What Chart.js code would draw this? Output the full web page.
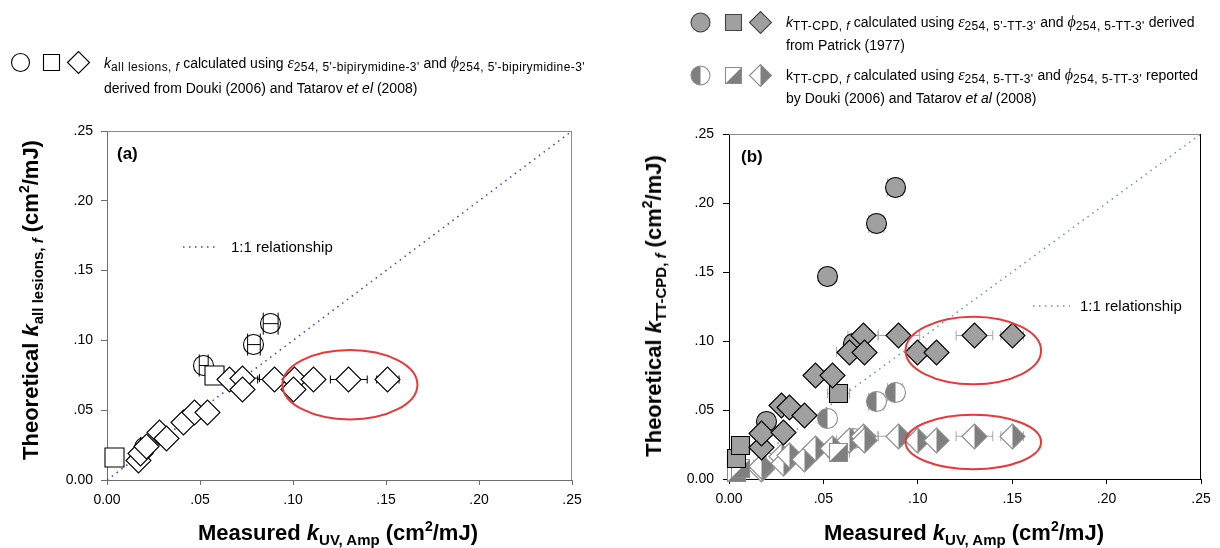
<!DOCTYPE html>
<html>
<head>
<meta charset="utf-8">
<title>Theoretical vs measured k</title>
<script src="https://cdn.jsdelivr.net/npm/chart.js@4.4.1/dist/chart.umd.min.js"></script>
<style>
  body { margin: 0; width: 1220px; height: 548px; position: relative; overflow: hidden; background: #fff;
         font-family: "Liberation Sans", Arial, sans-serif; color: #000; }
  canvas { position: absolute; top: 0; }
  #chartA { left: 0; }
  #chartB { left: 610px; }
  .t { position: absolute; white-space: nowrap; }
  .leg { font-size: 14px; line-height: 16px; }
  .sb { font-size: 12px; letter-spacing: 0.4px; position: relative; top: 3px; }
  .gk { font-family: "Liberation Serif", serif; font-style: italic; font-size: 16px; }
  .ax { font-size: 22px; line-height: 26px; font-weight: bold; }
  .axs { font-size: 15px; position: relative; top: 5px; }
  .axp { font-size: 14px; position: relative; top: -9px; }
  .rot { transform: translate(-50%, -50%) rotate(-90deg); }
  .hc { transform: translateX(-50%); }
  .pl { font-size: 17px; line-height: 20px; font-weight: bold; }
  .one { font-size: 15px; line-height: 18px; }
</style>
</head>
<body>
<canvas id="chartA" width="610" height="548"></canvas>
<canvas id="chartB" width="610" height="548"></canvas>

<!-- legends -->
<div class="t leg" style="left:104px;top:55px"><i>k</i><span class="sb">all lesions, <i>f</i></span> calculated using <span class="gk">ε</span><span class="sb">254, 5'-bipirymidine-3'</span> and <span class="gk">ϕ</span><span class="sb">254, 5'-bipirymidine-3'</span></div>
<div class="t leg" style="left:104px;top:80px">derived from Douki (2006) and Tatarov <i>et el</i> (2008)</div>

<div class="t leg" style="left:786px;top:14px"><i>k</i><span class="sb">TT-CPD, <i>f</i></span> calculated using <span class="gk">ε</span><span class="sb">254, 5'-TT-3'</span> and <span class="gk">ϕ</span><span class="sb">254, 5-TT-3'</span> derived</div>
<div class="t leg" style="left:786px;top:37px">from Patrick (1977)</div>
<div class="t leg" style="left:786px;top:67px">k<span class="sb">TT-CPD, <i>f</i></span> calculated using <span class="gk">ε</span><span class="sb">254, 5-TT-3'</span> and <span class="gk">ϕ</span><span class="sb">254, 5-TT-3'</span> reported</div>
<div class="t leg" style="left:786px;top:90px">by Douki (2006) and Tatarov <i>et al</i> (2008)</div>

<!-- axis titles -->
<div class="t ax hc" style="left:338px;top:520px">Measured <i>k</i><span class="axs">UV, Amp</span> (cm<span class="axp">2</span>/mJ)</div>
<div class="t ax hc" style="left:964px;top:520px">Measured <i>k</i><span class="axs">UV, Amp</span> (cm<span class="axp">2</span>/mJ)</div>
<div class="t ax rot" style="left:32px;top:300px">Theoretical <i>k</i><span class="axs">all lesions, <i>f</i></span> (cm<span class="axp">2</span>/mJ)</div>
<div class="t ax rot" style="left:655px;top:306px">Theoretical <i>k</i><span class="axs">TT-CPD, <i>f</i></span> (cm<span class="axp">2</span>/mJ)</div>

<!-- panel labels and 1:1 keys -->
<div class="t pl" style="left:117px;top:144px">(a)</div>
<div class="t pl" style="left:741px;top:147px">(b)</div>
<div class="t one" style="left:231px;top:238px">1:1 relationship</div>
<div class="t one" style="left:1080px;top:297px">1:1 relationship</div>

<script>
// shared axis ticks
const tickVals = [0, 0.05, 0.10, 0.15, 0.20, 0.25];
const tickLabels = ['0.00', '.05', '.10', '.15', '.20', '.25'];
const lineX = [0, 0.25];
const lineY = [0, 0.25];

// (a) all lesions, Douki / Tatarov coefficients
const aCircX = [0.020, 0.052, 0.079, 0.088];
const aCircY = [0.023, 0.082, 0.097, 0.112];
const aCircErr = [0.002, 0.0024, 0.0034, 0.004];
const aSqX = [0.004, 0.058];
const aSqY = [0.016, 0.075];
const aSqErr = [0, 0.004];
const aDiaX = [0.017, 0.018, 0.021, 0.028, 0.032, 0.041, 0.047, 0.054, 0.066, 0.073, 0.073, 0.090, 0.101, 0.100, 0.111, 0.130, 0.151];
const aDiaY = [0.014, 0.019, 0.024, 0.034, 0.030, 0.041, 0.048, 0.048, 0.072, 0.073, 0.065, 0.072, 0.072, 0.065, 0.072, 0.072, 0.072];
const aDiaErr = [0, 0, 0, 0, 0, 0, 0, 0, 0.0086, 0.009, 0, 0.009, 0, 0, 0, 0.0099, 0.006];

// (b) TT-CPD: Patrick (1977) values and Douki / Tatarov values
const bCircX = [0.020, 0.052, 0.066, 0.078, 0.088];
const bCircY = [0.0415, 0.1466, 0.098, 0.1848, 0.2114];
const bHalfCircY = [0.012, 0.044, 0.029, 0.056, 0.063];
const bCircErr = [0.002, 0.0025, 0.003, 0.004, 0.004];
const bSqX = [0.004, 0.006, 0.058];
const bSqY = [0.015, 0.0246, 0.0621];
const bHalfSqY = [0.0045, 0.0074, 0.019];
const bSqErr = [0, 0, 0.0058];
const bDiaX = [0.017, 0.017, 0.028, 0.029, 0.032, 0.040, 0.046, 0.055, 0.064, 0.071, 0.072, 0.090, 0.100, 0.110, 0.130, 0.150];
const bDiaY = [0.023, 0.033, 0.053, 0.034, 0.052, 0.046, 0.075, 0.075, 0.092, 0.104, 0.092, 0.104, 0.092, 0.092, 0.104, 0.104];
const bHalfDiaY = [0.007, 0.009, 0.016, 0.011, 0.017, 0.014, 0.022, 0.022, 0.028, 0.031, 0.028, 0.031, 0.028, 0.028, 0.031, 0.031];
const bDiaErr = [0, 0, 0, 0, 0, 0, 0, 0, 0.007, 0.008, 0, 0.011, 0, 0, 0.0097, 0.006];

// outlier groups circled in red (data units)
const aRings = [{ cx: 0.1306, cy: 0.0683, rx: 0.0363, ry: 0.0249 }];
const bRings = [
  { cx: 0.1294, cy: 0.0931, rx: 0.0359, ry: 0.0245 },
  { cx: 0.1294, cy: 0.0268, rx: 0.0359, ry: 0.0197 }
];

const GRAY = '#a0a0a0';
const DARK = '#7f7f7f';
const HALF_LINE = '#8c8c8c';

Chart.defaults.font.family = '"Liberation Sans", Arial, sans-serif';

// small canvases used as point styles; "dark" fills one half of the shape
function marker(shape, r, fill, stroke, dark) {
  const s = 2 * Math.ceil(r) + 5;
  const c = document.createElement('canvas');
  c.width = s; c.height = s;
  const g = c.getContext('2d');
  const m = s / 2;
  const path = () => {
    g.beginPath();
    if (shape === 'circle') g.arc(m, m, r, 0, Math.PI * 2);
    else if (shape === 'square') g.rect(m - r, m - r, 2 * r, 2 * r);
    else { g.moveTo(m - r, m); g.lineTo(m, m - r); g.lineTo(m + r, m); g.lineTo(m, m + r); g.closePath(); }
  };
  if (fill) { path(); g.fillStyle = fill; g.fill(); }
  if (dark) {
    g.save(); path(); g.clip();
    g.beginPath();
    if (shape === 'circle') g.rect(0, 0, m, s);
    else if (shape === 'square') { g.moveTo(m + r, m - r); g.lineTo(m + r, m + r); g.lineTo(m - r, m + r); g.closePath(); }
    else g.rect(m, 0, s - m, s);
    g.fillStyle = dark; g.fill();
    g.restore();
  }
  path(); g.lineWidth = 1.1; g.strokeStyle = stroke; g.stroke();
  return c;
}

function placeMarker(m, x, y) {
  m.style.left = Math.round(x - m.width / 2) + 'px';
  m.style.top = Math.round(y - m.height / 2) + 'px';
  document.body.appendChild(m);
}

const pts = (xs, ys) => xs.map((x, i) => ({ x: x, y: ys[i] }));

// horizontal error bars with caps, under the markers
const errorBars = {
  id: 'errorBars',
  beforeDatasetsDraw(chart) {
    const ctx = chart.ctx, sx = chart.scales.x, sy = chart.scales.y;
    // keep the marker images sharp at fractional positions
    ctx.imageSmoothingEnabled = false;
    chart.data.datasets.forEach(ds => {
      if (!ds.xErr) return;
      ctx.save();
      ctx.strokeStyle = ds.errColor;
      ctx.lineWidth = 1;
      ds.data.forEach((p, i) => {
        const e = ds.xErr[i];
        if (!e) return;
        const x0 = sx.getPixelForValue(p.x - e), x1 = sx.getPixelForValue(p.x + e);
        const y = sy.getPixelForValue(p.y), h = ds.capH;
        ctx.beginPath();
        ctx.moveTo(x0, y); ctx.lineTo(x1, y);
        ctx.moveTo(x0, y - h); ctx.lineTo(x0, y + h);
        ctx.moveTo(x1, y - h); ctx.lineTo(x1, y + h);
        ctx.stroke();
      });
      ctx.restore();
    });
  }
};

// frame, red rings and the dotted 1:1 key
const extras = {
  id: 'extras',
  afterDraw(chart, args, o) {
    const ctx = chart.ctx, a = chart.chartArea, sx = chart.scales.x, sy = chart.scales.y;
    ctx.save();
    ctx.lineWidth = 1;
    ctx.strokeStyle = o.topColor;
    ctx.beginPath(); ctx.moveTo(a.left, a.top + 0.5); ctx.lineTo(a.right, a.top + 0.5); ctx.stroke();
    ctx.strokeStyle = o.rightColor;
    ctx.beginPath(); ctx.moveTo(a.right - 0.5, a.top); ctx.lineTo(a.right - 0.5, a.bottom); ctx.stroke();

    ctx.strokeStyle = '#e8393a';
    ctx.lineWidth = 2;
    o.rings.forEach(r => {
      const cx = sx.getPixelForValue(r.cx), cy = sy.getPixelForValue(r.cy);
      const rx = sx.getPixelForValue(r.cx + r.rx) - cx, ry = cy - sy.getPixelForValue(r.cy + r.ry);
      ctx.beginPath(); ctx.ellipse(cx, cy, rx, ry, 0, 0, Math.PI * 2); ctx.stroke();
    });

    ctx.strokeStyle = o.lineColor;
    ctx.lineWidth = 1.5;
    ctx.setLineDash([1.5, 4.5]);
    ctx.beginPath(); ctx.moveTo(o.key[0], o.key[2]); ctx.lineTo(o.key[1], o.key[2]); ctx.stroke();
    ctx.restore();
  }
};

function panelOptions(p) {
  const tickFont = { size: 14 };
  return {
    responsive: false,
    animation: false,
    devicePixelRatio: 1,
    layout: { padding: { top: p.top, right: p.right, bottom: 0, left: 0 } },
    elements: { point: { radius: 10, hoverRadius: 10 } },
    plugins: {
      legend: { display: false },
      tooltip: { enabled: false },
      extras: { topColor: p.topColor, rightColor: p.rightColor, rings: p.rings, key: p.key, lineColor: p.lineColor }
    },
    scales: {
      x: {
        type: 'linear', min: 0, max: 0.25,
        afterFit: s => { s.height = p.xAxisH; },
        afterBuildTicks: s => { s.ticks = tickVals.map(v => ({ value: v })); },
        grid: { display: true, drawOnChartArea: false, drawTicks: true, tickLength: 5, tickColor: p.axisColor },
        border: { color: p.axisColor, width: 1 },
        ticks: { callback: (v, i) => tickLabels[i], color: '#000', font: tickFont, padding: 7, maxRotation: 0, autoSkip: false }
      },
      y: {
        type: 'linear', min: 0, max: 0.25,
        afterFit: s => { s.width = p.yAxisW; },
        afterBuildTicks: s => { s.ticks = tickVals.map(v => ({ value: v })); },
        grid: { display: true, drawOnChartArea: false, drawTicks: true, tickLength: 6, tickColor: p.axisColor },
        border: { color: p.axisColor, width: 1 },
        ticks: { callback: (v, i) => tickLabels[i], color: '#000', font: tickFont, padding: p.yPad, autoSkip: false }
      }
    }
  };
}

// panel (a)
new Chart(document.getElementById('chartA'), {
  type: 'scatter',
  data: {
    datasets: [
      { data: pts(aDiaX, aDiaY), pointStyle: marker('diamond', 12.5, '#fff', '#000'), xErr: aDiaErr, errColor: '#000', capH: 4, clip: false },
      { data: pts(aSqX, aSqY), pointStyle: marker('square', 9.5, '#fff', '#000'), xErr: aSqErr, errColor: '#000', capH: 4, clip: false },
      { data: pts(aCircX, aCircY), pointStyle: marker('circle', 10, null, '#000'), xErr: aCircErr, errColor: '#000', capH: 11, clip: false },
      { data: pts(lineX, lineY), showLine: true, pointRadius: 0, borderColor: '#3b3bdb', borderWidth: 1.5, borderDash: [1.5, 4.5], order: 10 }
    ]
  },
  options: panelOptions({
    top: 131, right: 38, xAxisH: 68, yAxisW: 107, yPad: 8,
    axisColor: '#6e6e6e', topColor: '#8a8a8a', rightColor: '#8a8a8a',
    rings: aRings, key: [183, 219, 247], lineColor: '#3b3bdb'
  }),
  plugins: [errorBars, extras]
});

// panel (b)
new Chart(document.getElementById('chartB'), {
  type: 'scatter',
  data: {
    datasets: [
      { data: pts(bDiaX, bDiaY), pointStyle: marker('diamond', 12.5, GRAY, '#000'), xErr: bDiaErr, errColor: '#a8a8a8', capH: 5, clip: false },
      { data: pts(bSqX, bSqY), pointStyle: marker('square', 9, GRAY, '#000'), xErr: bSqErr, errColor: '#a8a8a8', capH: 5, clip: false },
      { data: pts(bCircX, bCircY), pointStyle: marker('circle', 10, GRAY, '#000'), xErr: bCircErr, errColor: '#a8a8a8', capH: 9, clip: false },
      { data: pts(bSqX, bHalfSqY), pointStyle: marker('square', 9, '#fff', HALF_LINE, DARK), xErr: bSqErr, errColor: '#a8a8a8', capH: 5, clip: false },
      { data: pts(bDiaX, bHalfDiaY), pointStyle: marker('diamond', 12.5, '#fff', HALF_LINE, DARK), xErr: bDiaErr, errColor: '#a8a8a8', capH: 5, clip: false },
      { data: pts(bCircX, bHalfCircY), pointStyle: marker('circle', 10, '#fff', HALF_LINE, DARK), xErr: bCircErr, errColor: '#a8a8a8', capH: 9, clip: false },
      { data: pts(lineX, lineY), showLine: true, pointRadius: 0, borderColor: '#5e9e8e', borderWidth: 1.5, borderDash: [1.5, 4.5], order: 10 }
    ]
  },
  options: panelOptions({
    top: 134, right: 19, xAxisH: 69, yAxisW: 119, yPad: 9,
    axisColor: '#000', topColor: '#8a8a8a', rightColor: '#000',
    rings: bRings, key: [423, 460, 306], lineColor: '#5e9e8e'
  }),
  plugins: [errorBars, extras]
});

// legend symbols
placeMarker(marker('circle', 9, '#fff', '#000'), 20, 62);
placeMarker(marker('square', 8, '#fff', '#000'), 51, 62);
placeMarker(marker('diamond', 11, '#fff', '#000'), 78, 62);
placeMarker(marker('circle', 9.5, GRAY, '#444'), 700, 22);
placeMarker(marker('square', 8, GRAY, '#444'), 733, 22);
placeMarker(marker('diamond', 11, GRAY, '#444'), 760, 22);
placeMarker(marker('circle', 9.5, '#fff', HALF_LINE, DARK), 700, 75);
placeMarker(marker('square', 8, '#fff', HALF_LINE, DARK), 733, 75);
placeMarker(marker('diamond', 11, '#fff', HALF_LINE, DARK), 760, 75);
</script>
</body>
</html>
